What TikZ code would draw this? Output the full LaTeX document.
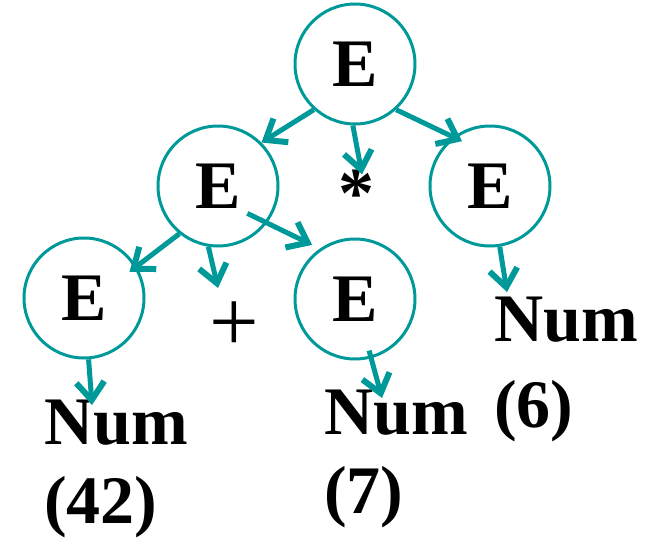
\documentclass[tikz,border=0pt]{standalone}
\usepackage{fontspec}
\setmainfont{Liberation Serif}
\usetikzlibrary{arrows.meta,positioning,calc}
\definecolor{treeTeal}{HTML}{009999}

\begin{document}
\begin{tikzpicture}[x=1pt,y=-1pt,
  treeNode/.style={circle,draw=treeTeal,line width=3pt,minimum size=120pt,inner sep=0pt,font=\fontsize{68}{81}\selectfont\bfseries},
  leafText/.style={anchor=north west,align=left,inner sep=0pt,font=\fontsize{68}{79}\selectfont\bfseries},
  opText/.style={anchor=base,inner sep=0pt},
  treeArrow/.style={treeTeal,line width=5pt,-{Straight Barb[length=18pt,width=28pt,line width=6pt]}}]
\useasboundingbox (0,0) rectangle (649,538);
% the E nodes of the parse tree
\node[treeNode] (root) at (355,64) {E};
\node[treeNode] (left) at (218,186) {E};
\node[treeNode] (right) at (490,186) {E};
\node[treeNode] (leftleft) at (84,298) {E};
\node[treeNode] (leftright) at (355,299) {E};
% operators and numbers
\node[opText,font=\fontsize{72}{80}\selectfont\bfseries] (times) at (356,217) {*};
\node[opText,font=\fontsize{88}{96}\selectfont] (plus) at (234.5,351) {+};
\node[leafText] (num42) at (44,400) {Num\\(42)};
\node[leafText] (num7) at (324,390) {Num\\(7)};
\node[leafText,font=\fontsize{68}{86}\selectfont\bfseries] (num6) at (494,297) {Num\\(6)};
% free arrow ends
\coordinate (timesTip) at ($(times.north)+(6,5)$);
\coordinate (plusTip) at (218,288);
\coordinate (num42Tip) at ($(num42.north west)+(48,5)$);
\coordinate (num7Tip) at ($(num7.north west)+(58,8)$);
\coordinate (num6Tip) at ($(num6.north west)+(13,-5)$);
% edges
\draw[treeArrow] (root.228) -- (left.45);
\draw[treeArrow] (root.268) -- (timesTip);
\draw[treeArrow,shorten >=-10pt] (root.-48) -- (right.127);
\draw[treeArrow,shorten >=-9pt] (left.231) -- (leftleft.31);
\draw[treeArrow] (left.261) -- (plusTip);
\draw[treeArrow,shorten <=-22pt,shorten >=8.5pt] (left.-37) -- (leftright.125);
\draw[treeArrow] (leftleft) -- (num42Tip);
\draw[treeArrow,shorten <=-8pt] (leftright) -- (num7Tip);
\draw[treeArrow] (right) -- (num6Tip);
\end{tikzpicture}
\end{document}
